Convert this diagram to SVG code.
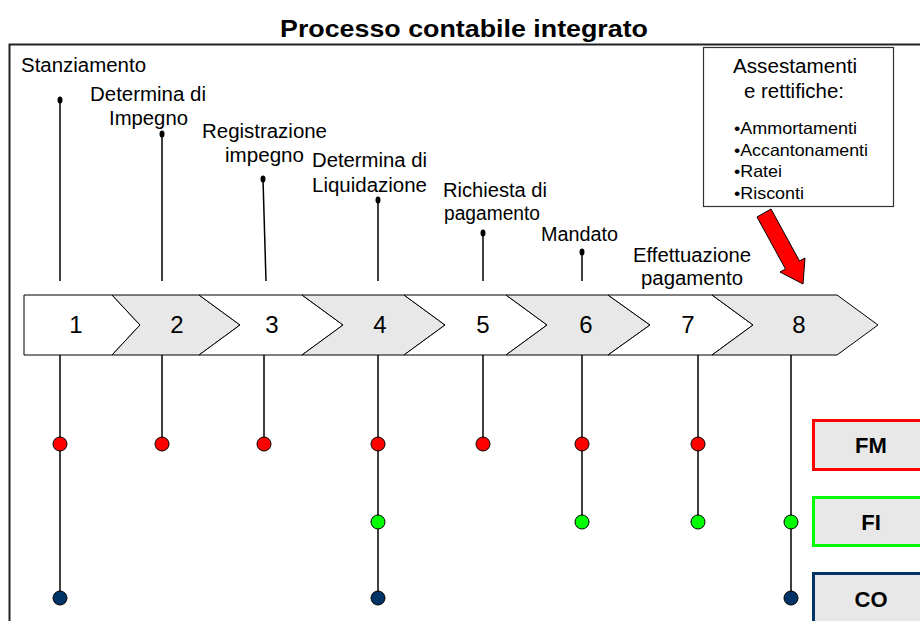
<svg xmlns="http://www.w3.org/2000/svg" width="920" height="621" viewBox="0 0 920 621">
<style>
  text { font-family: "Liberation Sans", Arial, sans-serif; fill: #000; }
  .lbl { font-size: 20px; }
  .num { font-size: 24px; text-anchor: middle; }
  .bul { font-size: 16.5px; }
  .sys { font-size: 22px; font-weight: bold; text-anchor: middle; }
  .chevW { fill: #ffffff; stroke: #000; stroke-width: 1; }
  .chevG { fill: #e8e8e8; stroke: #000; stroke-width: 1; }
  .ln { stroke: #000; stroke-width: 1.5; fill: none; }
  .pin { fill: #000; }
  .dr { fill: #ff0000; stroke: #000; stroke-width: 1; }
  .dg { fill: #00ff00; stroke: #000; stroke-width: 1; }
  .dc { fill: #003366; stroke: #000; stroke-width: 1; }
</style>
<rect x="0" y="0" width="920" height="621" fill="#ffffff"/>
<g id="title">
  <text x="280" y="37" font-size="24" font-weight="bold" textLength="368" lengthAdjust="spacingAndGlyphs">Processo contabile integrato</text>
</g>
<g id="frame">
  <path d="M9.5,621 V44.5 H920" fill="none" stroke="#222" stroke-width="2"/>
</g>
<g id="connectors">
  <line class="ln" x1="60" y1="100" x2="60" y2="281"/>
  <line class="ln" x1="162" y1="134" x2="162" y2="281"/>
  <line class="ln" x1="263" y1="179" x2="266" y2="281"/>
  <line class="ln" x1="378" y1="200" x2="378" y2="281"/>
  <line class="ln" x1="483" y1="233" x2="483" y2="281"/>
  <line class="ln" x1="582" y1="252" x2="582" y2="281"/>
  <line class="ln" x1="60" y1="355" x2="60" y2="598"/>
  <line class="ln" x1="162" y1="355" x2="162" y2="444"/>
  <line class="ln" x1="264" y1="355" x2="264" y2="444"/>
  <line class="ln" x1="378" y1="355" x2="378" y2="598"/>
  <line class="ln" x1="483" y1="355" x2="483" y2="444"/>
  <line class="ln" x1="582" y1="355" x2="582" y2="522"/>
  <line class="ln" x1="698" y1="355" x2="698" y2="522"/>
  <line class="ln" x1="791" y1="355" x2="791" y2="598"/>
  <ellipse class="pin" cx="60" cy="100" rx="2.5" ry="3.5"/>
  <ellipse class="pin" cx="162" cy="134" rx="2.5" ry="3.5"/>
  <ellipse class="pin" cx="263" cy="179" rx="2.5" ry="3.5"/>
  <ellipse class="pin" cx="378" cy="200" rx="2.5" ry="3.5"/>
  <ellipse class="pin" cx="483" cy="233" rx="2.5" ry="3.5"/>
  <ellipse class="pin" cx="582" cy="252" rx="2.5" ry="3.5"/>
</g>
<g id="chevrons">
  <g id="step1"><polygon class="chevW" points="24,295 112,295 140,325 112,355 24,355"/><text class="num" x="76" y="333">1</text></g>
  <g id="step2"><polygon class="chevG" points="112,295 199,295 240,325 199,355 112,355 140,325"/><text class="num" x="177" y="333">2</text></g>
  <g id="step3"><polygon class="chevW" points="199,295 302,295 343,325 302,355 199,355 240,325"/><text class="num" x="272" y="333">3</text></g>
  <g id="step4"><polygon class="chevG" points="302,295 404,295 445,325 404,355 302,355 343,325"/><text class="num" x="380" y="333">4</text></g>
  <g id="step5"><polygon class="chevW" points="404,295 506,295 547,325 506,355 404,355 445,325"/><text class="num" x="483" y="333">5</text></g>
  <g id="step6"><polygon class="chevG" points="506,295 608,295 650,325 608,355 506,355 547,325"/><text class="num" x="586" y="333">6</text></g>
  <g id="step7"><polygon class="chevW" points="608,295 712,295 753,325 712,355 608,355 650,325"/><text class="num" x="688" y="333">7</text></g>
  <g id="step8"><polygon class="chevG" points="712,295 837,295 878,325 837,355 712,355 753,325"/><text class="num" x="799" y="333">8</text></g>
</g>
<g id="labels">
  <text class="lbl" x="21" y="72" textLength="125" lengthAdjust="spacingAndGlyphs">Stanziamento</text>
  <text class="lbl" x="90" y="101" textLength="116" lengthAdjust="spacingAndGlyphs">Determina di</text>
  <text class="lbl" x="109" y="125" textLength="79" lengthAdjust="spacingAndGlyphs">Impegno</text>
  <text class="lbl" x="202" y="138" textLength="125" lengthAdjust="spacingAndGlyphs">Registrazione</text>
  <text class="lbl" x="225" y="162" textLength="79" lengthAdjust="spacingAndGlyphs">impegno</text>
  <text class="lbl" x="312" y="167" textLength="115" lengthAdjust="spacingAndGlyphs">Determina di</text>
  <text class="lbl" x="312" y="192" textLength="115" lengthAdjust="spacingAndGlyphs">Liquidazione</text>
  <text class="lbl" x="443" y="197" textLength="104" lengthAdjust="spacingAndGlyphs">Richiesta di</text>
  <text class="lbl" x="444" y="220" textLength="96" lengthAdjust="spacingAndGlyphs">pagamento</text>
  <text class="lbl" x="541" y="241" textLength="77" lengthAdjust="spacingAndGlyphs">Mandato</text>
  <text class="lbl" x="633" y="262" textLength="118" lengthAdjust="spacingAndGlyphs">Effettuazione</text>
  <text class="lbl" x="641" y="285" textLength="102" lengthAdjust="spacingAndGlyphs">pagamento</text>
</g>
<g id="dots">
  <circle class="dr" cx="60" cy="444" r="7"/>
  <circle class="dr" cx="162" cy="444" r="7"/>
  <circle class="dr" cx="264" cy="444" r="7"/>
  <circle class="dr" cx="378" cy="444" r="7"/>
  <circle class="dr" cx="483" cy="444" r="7"/>
  <circle class="dr" cx="582" cy="444" r="7"/>
  <circle class="dr" cx="698" cy="444" r="7"/>
  <circle class="dg" cx="378" cy="522" r="7"/>
  <circle class="dg" cx="582" cy="522" r="7"/>
  <circle class="dg" cx="698" cy="522" r="7"/>
  <circle class="dg" cx="791" cy="522" r="7"/>
  <circle class="dc" cx="60" cy="598" r="7"/>
  <circle class="dc" cx="378" cy="598" r="7"/>
  <circle class="dc" cx="791" cy="598" r="7"/>
</g>
<g id="assestamenti">
  <rect x="703.5" y="47.5" width="190" height="159" fill="#ffffff" stroke="#333" stroke-width="1.2"/>
  <text class="lbl" x="733" y="73" textLength="124" lengthAdjust="spacingAndGlyphs">Assestamenti</text>
  <text class="lbl" x="744" y="98" textLength="100" lengthAdjust="spacingAndGlyphs">e rettifiche:</text>
  <text class="bul" x="734" y="134" textLength="123" lengthAdjust="spacingAndGlyphs">•Ammortamenti</text>
  <text class="bul" x="734" y="156" textLength="134" lengthAdjust="spacingAndGlyphs">•Accantonamenti</text>
  <text class="bul" x="734" y="177" textLength="48" lengthAdjust="spacingAndGlyphs">•Ratei</text>
  <text class="bul" x="734" y="199" textLength="70" lengthAdjust="spacingAndGlyphs">•Risconti</text>
</g>
<g id="arrow">
  <polygon points="757,217 771,209 799.5,261 805,258 803,284 780,272 785.5,269" fill="#ff0000" stroke="#000" stroke-width="1"/>
</g>
<g id="FM">
  <rect x="813.5" y="420.5" width="120" height="49" fill="#e8e8e8" stroke="#ff0000" stroke-width="3"/>
  <text class="sys" x="871" y="453">FM</text>
</g>
<g id="FI">
  <rect x="813.5" y="497.5" width="120" height="48" fill="#e8e8e8" stroke="#00ff00" stroke-width="3"/>
  <text class="sys" x="871" y="530">FI</text>
</g>
<g id="CO">
  <rect x="813.5" y="573.5" width="120" height="60" fill="#e8e8e8" stroke="#003366" stroke-width="3"/>
  <text class="sys" x="871" y="607">CO</text>
</g>
</svg>
